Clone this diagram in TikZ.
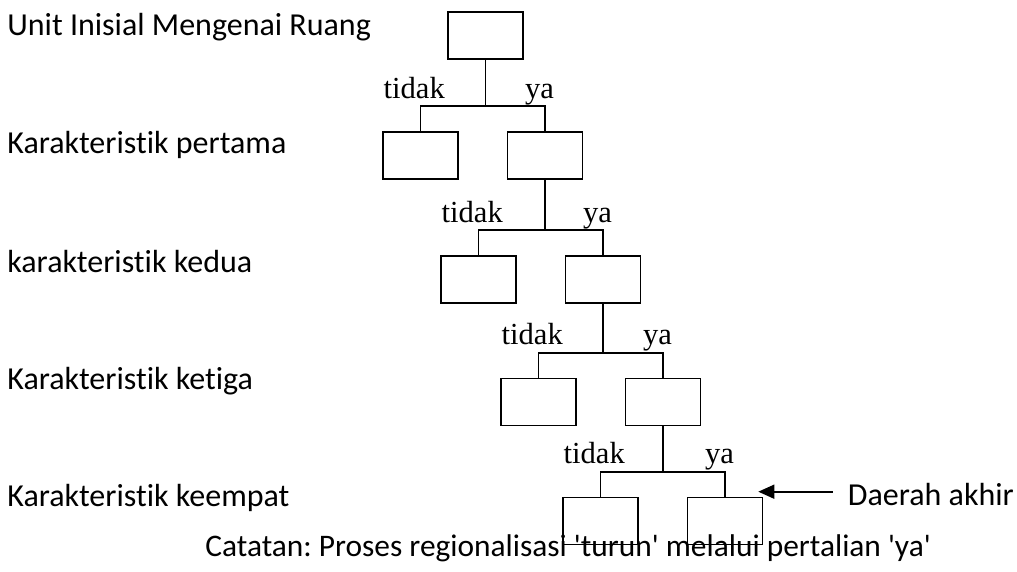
\documentclass[tikz,border=0pt]{standalone}
\usepackage{fontspec}
\setmainfont{Liberation Serif}
\newfontfamily\notefont{Carlito}[Ligatures=NoCommon]
\usepackage{tikz}
\usetikzlibrary{arrows.meta,positioning,calc}
\usepackage{xcolor}
\definecolor{treeink}{HTML}{000000}
\tikzset{
  treebox/.style={
    draw=treeink,
    line width=0.8pt,
    minimum width=37.5pt,
    minimum height=23.5pt,
    inner sep=0pt
  },
  levellabel/.style={
    anchor=base west,
    inner sep=0pt,
    font=\notefont\fontsize{16}{19}\selectfont\frenchspacing
  },
  branchlabel/.style={
    anchor=base west,
    inner sep=0pt,
    font=\fontsize{15.3}{18}\selectfont
  },
  link/.style={
    draw=treeink,
    line width=0.8pt
  },
  pointer/.style={
    -{Triangle[length=8pt,width=7pt]},
    line width=0.8pt,
    draw=treeink
  }
}

\begin{document}
\begin{tikzpicture}[x=0.5pt,y=-0.5pt]
\useasboundingbox (0,0) rectangle (1017,572);

% level names on the left
\node[levellabel] (unit) at (7,36) {Unit Inisial Mengenai Ruang};
\node[levellabel] (kar1) at (7,154) {Karakteristik pertama};
\node[levellabel] (kar2) at (7,272) {karakteristik kedua};
\node[levellabel] (kar3) at (7,389) {Karakteristik ketiga};
\node[levellabel] (kar4) at (7,506) {Karakteristik keempat};

% boxes
\node[treebox] (root) at (485.5,35.5) {};
\node[treebox] (t1) at (420.5,155.5) {};
\node[treebox] (y1) at (545,155.5) {};
\node[treebox] (t2) at (478.5,279.5) {};
\node[treebox] (y2) at (603,279.5) {};
\node[treebox] (t3) at (538.5,402) {};
\node[treebox] (y3) at (663,402) {};
\node[treebox] (t4) at (600.5,521) {};
\node[treebox] (y4) at (725,521) {};

% branch points
\coordinate (j1) at ($(root.south |- t1.north)+(0,-25)$);
\coordinate (j2) at ($(y1.south |- t2.north)+(0,-25)$);
\coordinate (j3) at ($(y2.south |- t3.north)+(0,-25)$);
\coordinate (j4) at ($(y3.south |- t4.north)+(0,-25)$);

\draw[link] (root.south) -- (j1);
\draw[link] (t1.north) |- (j1) -| (y1.north);
\draw[link] (y1.south) -- (j2);
\draw[link] (t2.north) |- (j2) -| (y2.north);
\draw[link] (y2.south) -- (j3);
\draw[link] (t3.north) |- (j3) -| (y3.north);
\draw[link] (y3.south) -- (j4);
\draw[link] (t4.north) |- (j4) -| (y4.north);

% tidak / ya
\node[branchlabel] (no1) at ($(t1.north west)+(1,-33)$) {tidak};
\node[branchlabel] (yes1) at ($(y1.north west)+(18,-33)$) {ya};
\node[branchlabel] (no2) at ($(t2.north west)+(1,-33)$) {tidak};
\node[branchlabel] (yes2) at ($(y2.north west)+(18,-33)$) {ya};
\node[branchlabel] (no3) at ($(t3.north west)+(1,-33)$) {tidak};
\node[branchlabel] (yes3) at ($(y3.north west)+(18,-33)$) {ya};
\node[branchlabel] (no4) at ($(t4.north west)+(1,-33)$) {tidak};
\node[branchlabel] (yes4) at ($(y4.north west)+(18,-33)$) {ya};

% end region
\node[levellabel] (akhir) at (847.5,505) {Daerah akhir};
\coordinate (tip) at ($(y4.north east)+(-5,-5)$);
\draw[pointer] ($(tip -| akhir.west)+(-15,0)$) -- (tip);

\node[levellabel, font=\notefont\fontsize{15.7}{19}\selectfont\frenchspacing] (catatan) at (205,556) {Catatan: Proses regionalisasi \textquotesingle turun\textquotesingle\ melalui pertalian \textquotesingle ya\textquotesingle};
\end{tikzpicture}
\end{document}
